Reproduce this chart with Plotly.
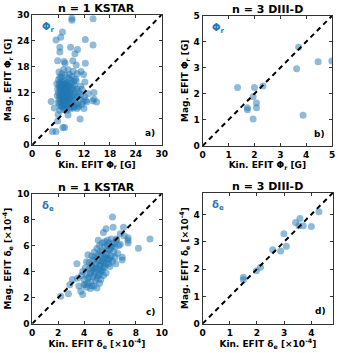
import plotly.graph_objects as go

# ---------------- data ----------------
# panel a: n=1 KSTAR, Phi_r [G]
a_x = [9.2, 9.2, 14.1, 7.0, 5.5, 6.6, 12.3, 14.1, 6.4, 6.4, 8.9, 10.5, 9.9, 5.9, 7.4, 7.6, 9.4, 12.3, 10.2, 8.3,
       11.3, 11.9, 8.6, 6.8, 12.2, 4.4, 14.3, 14.9, 14.3, 14.0, 12.6, 12.0, 11.1, 6.4, 8.3, 7.5, 7.1, 4.7, 5.5, 5.9,
       9.6, 10.4, 10.8, 11.5, 13.0, 5.1,
       6.1, 6.3, 6.2, 6.5, 6.1, 6.4, 6.2, 6.6, 6.3, 6.7,
       6.9, 7.0, 7.2, 6.8, 7.1, 7.3, 6.9, 7.2, 7.0, 7.4,
       7.5, 7.7, 7.6, 7.8, 7.5, 7.9, 7.6, 7.8, 7.5, 7.9,
       8.1, 8.3, 8.0, 8.4, 8.2, 8.0, 8.5, 8.3, 8.1, 8.6,
       8.8, 9.0, 8.7, 9.1, 8.9, 9.2, 8.8, 9.3, 9.0, 9.4,
       9.6, 9.8, 9.5, 9.9, 9.7, 10.0, 9.6, 10.1, 10.3, 10.5,
       10.2, 10.8, 11.0, 11.3, 10.6, 11.8, 11.5, 12.1, 12.4, 11.2,
       6.6, 6.8, 7.0, 7.2, 7.4, 7.6, 7.7, 7.8, 8.0, 8.2,
       6.5, 6.7, 7.1, 7.3, 7.5, 7.9, 8.1, 8.3, 8.5, 8.7,
       6.4, 6.9, 7.6, 8.4, 9.2, 10.0, 6.2, 7.3, 9.5, 10.4,
       6.8, 7.3, 8.0, 8.8, 9.7, 6.0, 5.8, 5.9, 5.7, 6.0]
a_y = [28.7, 29.2, 29.1, 26.0, 24.2, 24.8, 24.3, 23.0, 22.5, 21.4, 22.5, 22.0, 21.0, 19.4, 19.2, 18.8, 19.4, 18.8, 18.4, 17.3,
       16.9, 16.2, 16.2, 15.7, 14.5, 10.0, 12.1, 9.9, 10.6, 10.2, 9.9, 8.4, 6.0, 8.0, 6.9, 4.0, 4.0, 3.1, 3.1, 5.5,
       8.5, 8.4, 8.8, 9.3, 11.8, 8.5,
       15.0, 14.2, 13.5, 12.8, 12.0, 11.3, 10.6, 10.0, 9.4, 8.8,
       14.6, 13.9, 13.2, 12.5, 11.8, 11.0, 10.4, 9.7, 9.1, 8.6,
       14.8, 14.0, 13.4, 12.7, 12.1, 11.5, 10.8, 10.2, 9.5, 8.9,
       14.4, 13.7, 13.0, 12.3, 11.7, 11.0, 10.5, 9.8, 9.2, 8.7,
       14.9, 14.2, 13.4, 12.8, 12.0, 11.4, 10.7, 10.0, 9.4, 8.8,
       14.6, 13.8, 13.1, 12.4, 11.6, 10.9, 10.3, 9.6, 12.9, 11.2,
       14.8, 12.2, 10.5, 11.6, 9.2, 10.0, 12.8, 11.1, 10.3, 13.5,
       11.6, 11.0, 12.4, 10.2, 11.4, 12.6, 11.0, 13.8, 12.0, 10.4,
       13.2, 14.0, 14.4, 12.8, 10.6, 9.6, 12.6, 11.2, 13.4, 11.6,
       15.6, 16.4, 16.0, 15.4, 15.8, 15.2, 16.8, 17.4, 17.0, 16.4,
       9.0, 8.2, 8.0, 8.3, 8.9, 9.8, 11.4, 12.8, 14.1, 7.0]

# panel b: n=3 DIII-D, Phi_r [G]
b_x = [1.35, 2.0, 2.33, 1.95, 1.73, 1.73, 2.08, 2.08, 1.95, 3.71, 3.63, 3.88, 4.46, 4.99]
b_y = [2.24, 2.24, 2.30, 1.89, 1.46, 1.39, 1.65, 1.46, 1.03, 3.79, 2.96, 1.18, 3.23, 3.26]

# panel c: n=1 KSTAR, delta_e [x1e-4]
c_x = [2.2, 2.8, 2.9, 3.1, 3.45, 3.6, 3.9, 3.75, 4.0, 4.2, 4.8, 5.1, 5.25, 5.8, 6.2, 6.25, 5.7, 7.05, 6.8, 7.1,
       7.4, 7.4, 7.4, 6.8, 6.95, 6.95, 8.2, 9.1, 6.45, 4.75, 5.0, 3.5, 4.3, 5.5, 6.5, 6.0,
       4.2, 4.4, 4.3, 4.5, 4.6, 4.7, 4.5, 4.8, 4.9, 4.7,
       5.0, 5.1, 5.0, 5.2, 5.3, 5.1, 5.4, 5.3, 5.5, 5.6,
       5.4, 5.7, 5.8, 5.6, 5.9, 6.0, 5.8, 6.1, 6.2, 6.3,
       4.1, 4.0, 4.3, 4.6, 4.9, 5.2, 5.5, 5.7, 6.0, 6.2,
       4.4, 4.6, 4.8, 5.0, 5.2, 5.4, 5.6, 5.9, 6.1, 6.4,
       4.9, 5.1, 5.3, 5.5, 5.6, 5.4, 5.2, 5.0, 4.8, 4.6,
       3.8, 3.9, 4.1, 4.2, 4.5, 5.7, 5.9, 6.1, 6.3, 6.5,
       5.3, 5.5, 5.2, 4.7, 5.8, 6.6, 6.7, 6.4, 4.4, 5.9]
c_y = [2.1, 2.3, 3.0, 3.4, 4.6, 2.9, 2.25, 2.5, 3.0, 4.75, 5.1, 6.4, 5.5, 6.4, 8.2, 7.4, 7.3, 7.4, 6.9, 6.75,
       6.6, 6.4, 6.2, 6.1, 5.1, 4.9, 5.8, 6.5, 4.6, 2.9, 2.75, 3.5, 5.3, 7.0, 6.5, 5.0,
       3.8, 4.2, 3.5, 3.9, 4.5, 3.6, 3.2, 4.0, 4.6, 4.9,
       4.2, 3.7, 5.0, 4.5, 4.0, 5.3, 4.8, 3.4, 4.3, 5.1,
       5.6, 4.6, 5.4, 5.9, 4.9, 5.7, 6.0, 5.2, 6.0, 5.5,
       4.3, 3.4, 3.1, 2.9, 3.3, 3.1, 3.7, 3.9, 4.4, 4.8,
       4.7, 5.2, 5.5, 5.8, 6.0, 6.2, 6.3, 6.2, 6.5, 5.9,
       4.3, 4.8, 5.2, 5.0, 4.4, 4.1, 3.8, 3.5, 3.8, 4.1,
       3.7, 4.0, 3.0, 2.8, 2.7, 5.3, 5.7, 5.9, 6.2, 6.4,
       4.6, 4.7, 4.2, 4.3, 5.0, 5.4, 6.0, 5.1, 3.6, 4.6]

# panel d: n=3 DIII-D, delta_e [x1e-4]
d_x = [1.5, 1.5, 1.98, 2.13, 2.58, 2.87, 2.99, 3.08, 3.42, 3.58, 3.54, 3.70, 4.0, 4.28]
d_y = [1.70, 1.61, 1.94, 2.07, 2.71, 2.66, 3.29, 2.83, 3.70, 3.85, 3.58, 3.58, 3.56, 4.10]

# axis limits and ticks
a_lim, a_ticks = 30, [0, 6, 12, 18, 24, 30]
b_lim, b_ticks = 5, [0, 1, 2, 3, 4, 5]
c_lim, c_ticks = 10, [0, 2, 4, 6, 8, 10]
d_lim, d_ticks = 4.8, [0, 1, 2, 3, 4]

titles = ["n = 1 KSTAR", "n = 3 DIII-D", "n = 1 KSTAR", "n = 3 DIII-D"]
letters = ["a)", "b)", "c)", "d)"]
xlabels = ["Kin. EFIT Φ<sub>r</sub> [G]", "Kin. EFIT Φ<sub>r</sub> [G]",
           "Kin. EFIT δ<sub>e</sub> [×10<sup>-4</sup>]", "Kin. EFIT δ<sub>e</sub> [×10<sup>-4</sup>]"]
ylabels = ["Mag. EFIT Φ<sub>r</sub> [G]", "Mag. EFIT Φ<sub>r</sub> [G]",
           "Mag. EFIT δ<sub>e</sub> [×10<sup>-4</sup>]", "Mag. EFIT δ<sub>e</sub> [×10<sup>-4</sup>]"]
tags = ["Φ<sub>r</sub>", "Φ<sub>r</sub>", "δ<sub>e</sub>", "δ<sub>e</sub>"]

W, H = 342, 353
domains = [
    ((30 / W, 163 / W), ((353 - 144) / H, (353 - 10) / H)),
    ((205 / W, 338 / W), ((353 - 145) / H, (353 - 11) / H)),
    ((30 / W, 163 / W), ((353 - 328) / H, (353 - 194) / H)),
    ((205 / W, 339 / W), ((353 - 328) / H, (353 - 193) / H)),
]

FONT = "DejaVu Sans"
BLUE = "#1f77b4"

fig = go.Figure()
panels = [(a_x, a_y, a_lim, a_ticks), (b_x, b_y, b_lim, b_ticks),
          (c_x, c_y, c_lim, c_ticks), (d_x, d_y, d_lim, d_ticks)]

layout = dict(width=W, height=H, margin=dict(l=0, r=0, t=0, b=0),
              paper_bgcolor="white", plot_bgcolor="white", showlegend=False,
              font=dict(family=FONT, color="black"))
annotations = []
for i, (xs, ys, lim, ticks) in enumerate(panels):
    n = i + 1
    xa = "x" if n == 1 else f"x{n}"
    ya = "y" if n == 1 else f"y{n}"
    fig.add_trace(go.Scatter(x=xs, y=ys, mode="markers", xaxis=xa, yaxis=ya,
                             marker=dict(size=7, color=BLUE, opacity=0.5, line=dict(width=0))))
    fig.add_trace(go.Scatter(x=[0, lim], y=[0, lim], mode="lines", xaxis=xa, yaxis=ya,
                             line=dict(color="black", width=2, dash="5px,4px")))
    ax = dict(range=[0, lim], tickvals=ticks, ticks="inside", ticklen=3, tickwidth=1,
              tickcolor="#333", showline=True, linecolor="#333", linewidth=1, mirror="allticks",
              showgrid=False, zeroline=False,
              tickfont=dict(family=FONT, size=9, weight="bold"))
    (dx, dy) = domains[i]
    layout["xaxis" if n == 1 else f"xaxis{n}"] = dict(
        ax, domain=list(dx), anchor=ya,
        title=dict(text=xlabels[i], font=dict(family=FONT, size=9, weight="bold"), standoff=3))
    layout["yaxis" if n == 1 else f"yaxis{n}"] = dict(
        ax, domain=list(dy), anchor=xa,
        title=dict(text=ylabels[i], font=dict(family=FONT, size=9, weight="bold"), standoff=3))
    annotations.append(dict(text=titles[i], x=(dx[0] + dx[1]) / 2, y=dy[1], xref="paper", yref="paper",
                            xanchor="center", yanchor="bottom", showarrow=False, yshift=-2,
                            font=dict(family=FONT, size=11, weight="bold")))
    annotations.append(dict(text=letters[i], x=0.96, y=0.04, xref=f"{xa} domain", yref=f"{ya} domain",
                            xanchor="right", yanchor="bottom", showarrow=False,
                            font=dict(family=FONT, size=9, weight="bold")))
    annotations.append(dict(text=tags[i], x=0.06, y=0.9, xref=f"{xa} domain", yref=f"{ya} domain",
                            xanchor="left", yanchor="middle", showarrow=False,
                            font=dict(family=FONT, size=10, weight="bold", color=BLUE)))

layout["annotations"] = annotations
fig.update_layout(**layout)
fig.write_html("out.html", config={"displayModeBar": False},
               post_script="document.body.style.margin='0';document.body.style.padding='0';")
